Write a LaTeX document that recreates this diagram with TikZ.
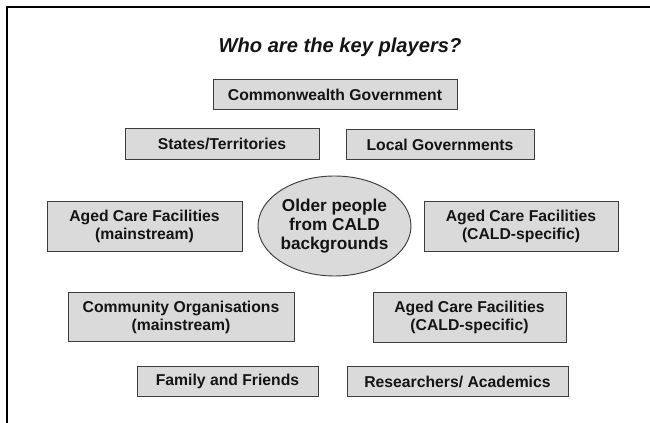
\documentclass[tikz,border=0pt]{standalone}
\usepackage{fontspec}
\setmainfont{Liberation Sans}
\usetikzlibrary{shapes.geometric}

\definecolor{boxfill}{RGB}{218,218,218}
\definecolor{boxline}{RGB}{60,60,60}
\definecolor{boxtext}{RGB}{20,20,20}

\tikzset{every picture/.style={line width=0.75pt}}
\tikzset{
  player/.style={draw=boxline, fill=boxfill, line width=0.7pt, inner sep=0pt,
    align=center, text=boxtext, font=\bfseries\fontsize{11.8}{13.5}\selectfont},
  oneline/.style={player, minimum height=23pt},
  twoline/.style={player, minimum height=37pt},
  centre/.style={ellipse, draw=boxline, fill=boxfill, line width=0.7pt, inner sep=0pt,
    align=center, text=boxtext, minimum width=114.75pt, minimum height=75pt,
    font=\bfseries\fontsize{12.9}{14}\selectfont},
  heading/.style={anchor=base, inner sep=0pt, text=boxtext,
    font=\bfseries\itshape\fontsize{15.1}{18}\selectfont}
}

\begin{document}
\begin{tikzpicture}[x=0.75pt,y=0.75pt,yscale=-1,xscale=1]
    \useasboundingbox (0,0) rectangle (650,423);
    %Frame
    \draw[line width=1.2pt] (650,7) -- (7,7) -- (7,423) ;
    % Title
    \node[heading] (title) at (340,53) {Who are the key players?};
    % Government levels
    \node[oneline, minimum width=183pt] (cwlth) at (335,94.5) {Commonwealth Government};
    \node[oneline, minimum width=145.5pt] (states) at (222,144) {States/Territories};
    \node[oneline, minimum width=141pt] (local) at (440,144.5) {Local Governments};
    % Centre
    \node[centre] (older) at (334.5,226) {Older people\\from CALD\\backgrounds};
    % Aged care
    \node[twoline, minimum width=146.25pt] (acfmain) at (144.5,226.5) {Aged Care Facilities\\(mainstream)};
    \node[twoline, minimum width=145.5pt] (acfcald) at (521,226.5) {Aged Care Facilities\\(CALD-specific)};
    % Community
    \node[twoline, minimum width=169.5pt] (commorg) at (181,317) {Community Organisations\\(mainstream)};
    \node[twoline, minimum width=144.75pt] (acfcaldb) at (469.5,317.5) {Aged Care Facilities\\(CALD-specific)};
    % Bottom row
    \node[oneline, minimum width=135.75pt] (family) at (227.5,381.5) {Family and Friends};
    \node[oneline, minimum width=165.75pt] (research) at (457.5,381.5) {Researchers/ Academics};
\end{tikzpicture}
\end{document}
